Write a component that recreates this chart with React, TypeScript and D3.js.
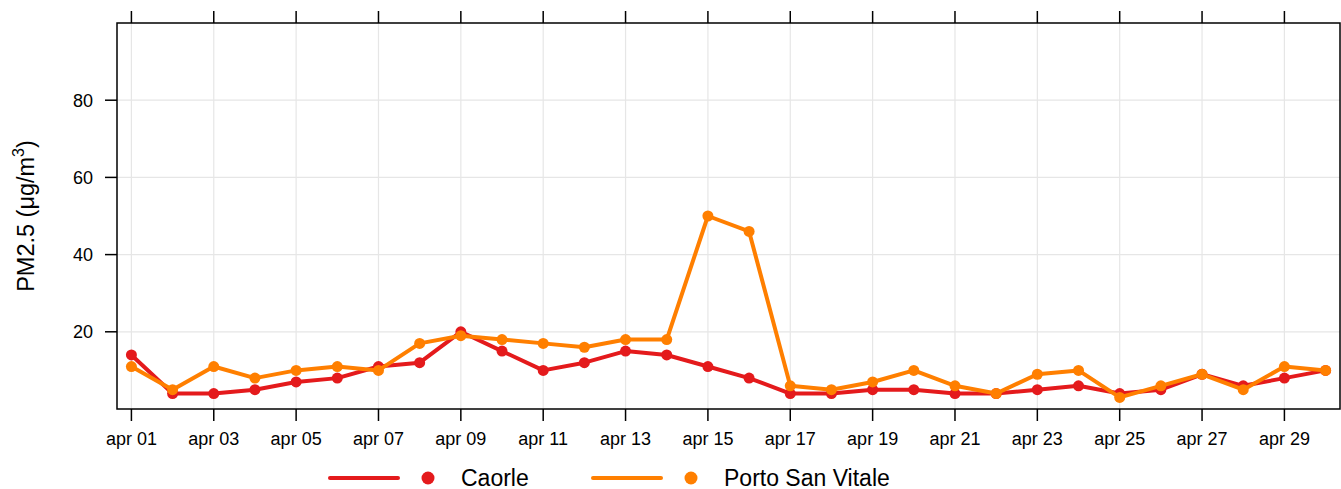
import React from 'react';
import * as d3 from 'd3';

const DAYS = [1, 2, 3, 4, 5, 6, 7, 8, 9, 10, 11, 12, 13, 14, 15, 16, 17, 18, 19, 20, 21, 22, 23, 24, 25, 26, 27, 28, 29, 30];
const CAORLE = [14, 4, 4, 5, 7, 8, 11, 12, 20, 15, 10, 12, 15, 14, 11, 8, 4, 4, 5, 5, 4, 4, 5, 6, 4, 5, 9, 6, 8, 10];
const PORTO_SAN_VITALE = [11, 5, 11, 8, 10, 11, 10, 17, 19, 18, 17, 16, 18, 18, 50, 46, 6, 5, 7, 10, 6, 4, 9, 10, 3, 6, 9, 5, 11, 10];
const X_TICKS = [1, 3, 5, 7, 9, 11, 13, 15, 17, 19, 21, 23, 25, 27, 29];
const Y_TICKS = [20, 40, 60, 80];

const SERIES = [
    { name: 'Caorle', values: CAORLE, color: '#E41A1C' },
    { name: 'Porto San Vitale', values: PORTO_SAN_VITALE, color: '#FF7F00' },
];

const FONT = '"Liberation Sans", Arial, Helvetica, sans-serif';

const App: React.FC = () => {
    const width = 1341;
    const height = 489;
    const margin = { top: 23, right: 1, bottom: 80, left: 117 };
    const innerW = width - margin.left - margin.right;
    const innerH = height - margin.top - margin.bottom;

    const x = d3.scaleLinear().domain([0.65, 30.35]).range([0, innerW]);
    const y = d3.scaleLinear().domain([0, 100]).range([innerH, 0]);

    const line = d3.line<number>()
        .x((_, i) => x(DAYS[i]))
        .y(d => y(d));

    const pad = (d: number) => (d < 10 ? '0' + d : '' + d);

    const legendX = [330, 593];

    return (
        <svg width={width} height={height} style={{ position: 'absolute', left: 0, top: 0, fontFamily: FONT }}>
            <rect width={width} height={height} fill="#fff" />
            <g transform={`translate(${margin.left},${margin.top})`}>
                {/* grid */}
                {Y_TICKS.map(t => (
                    <line key={'gy' + t} x1={0} x2={innerW} y1={y(t)} y2={y(t)} stroke="#e6e6e6" strokeWidth={1.2} />
                ))}
                {X_TICKS.map(t => (
                    <line key={'gx' + t} x1={x(t)} x2={x(t)} y1={0} y2={innerH} stroke="#e6e6e6" strokeWidth={1.2} />
                ))}

                {/* series */}
                {SERIES.map(s => (
                    <g key={s.name}>
                        <path d={line(s.values) || ''} fill="none" stroke={s.color} strokeWidth={4} strokeLinejoin="round" />
                        {s.values.map((v, i) => (
                            <circle key={i} cx={x(DAYS[i])} cy={y(v)} r={5.5} fill={s.color} />
                        ))}
                    </g>
                ))}

                {/* frame */}
                <rect x={0} y={0} width={innerW} height={innerH} fill="none" stroke="#000" strokeWidth={1.5} />

                {/* y ticks */}
                {Y_TICKS.map(t => (
                    <g key={'yt' + t} transform={`translate(0,${y(t)})`}>
                        <line x1={-12} x2={0} stroke="#000" strokeWidth={1.5} />
                        <text x={-24} dy="0.35em" textAnchor="end" fontSize={18} fill="#000">{t}</text>
                    </g>
                ))}

                {/* x ticks bottom + top */}
                {X_TICKS.map(t => (
                    <g key={'xt' + t} transform={`translate(${x(t)},0)`}>
                        <line y1={innerH} y2={innerH + 12} stroke="#000" strokeWidth={1.5} />
                        <line y1={0} y2={-12} stroke="#000" strokeWidth={1.5} />
                        <text y={innerH + 36} textAnchor="middle" fontSize={18} fill="#000">{`apr ${pad(t)}`}</text>
                    </g>
                ))}
            </g>

            {/* y label */}
            <text transform={`translate(34,${margin.top + innerH / 2}) rotate(-90)`} textAnchor="middle" fontSize={23.5} fill="#000">
                PM2.5 (μg/m<tspan dy={-10} fontSize={16}>3</tspan><tspan dy={10}>)</tspan>
            </text>

            {/* legend */}
            {SERIES.map((s, i) => (
                <g key={'lg' + s.name} transform={`translate(${legendX[i]},478)`}>
                    <line x1={0} x2={68} stroke={s.color} strokeWidth={4} strokeLinecap="round" />
                    <circle cx={98} cy={0} r={6.5} fill={s.color} />
                    <text x={131} y={8} fontSize={23} fill="#000">{s.name}</text>
                </g>
            ))}
        </svg>
    );
};

export default App;
